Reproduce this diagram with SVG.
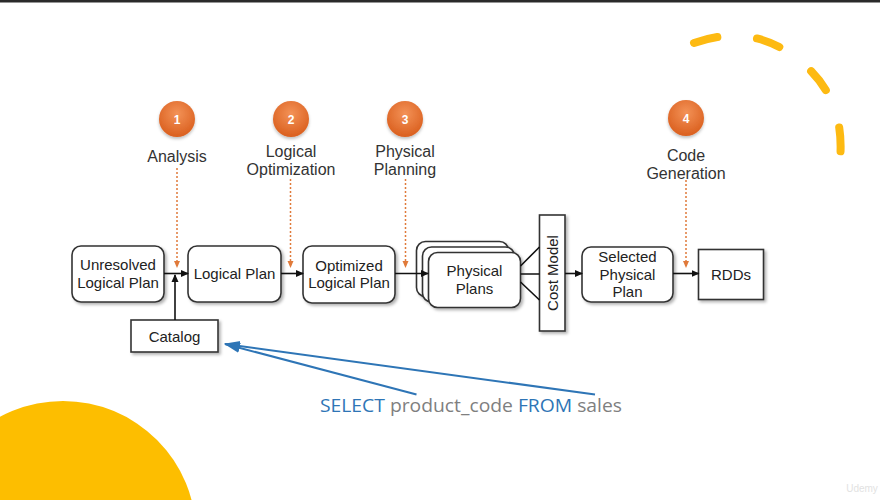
<svg xmlns="http://www.w3.org/2000/svg" width="880" height="500" viewBox="0 0 880 500">
<style>
.box{fill:#fff;stroke:#333;stroke-width:1.6;filter:url(#sh)}
.t{font-family:"Liberation Sans",Arial,sans-serif;font-size:15px;fill:#222;text-anchor:middle}
.lbl{font-family:"Liberation Sans",Arial,sans-serif;font-size:16px;fill:#333;text-anchor:middle}
.num{font-family:"Liberation Sans",Arial,sans-serif;font-size:12px;font-weight:bold;fill:#fff;text-anchor:middle}
.conn{stroke:#111;stroke-width:1.6;fill:none}
.dot{stroke:#E07A3A;stroke-width:1.5;stroke-dasharray:2 2;fill:none}
.blue{stroke:#2E75B6;stroke-width:2;fill:none}
.circ{fill:url(#og);filter:url(#sh2)}
</style>
<defs>
<filter id="sh" x="-10%" y="-10%" width="130%" height="130%">
<feDropShadow dx="2" dy="2" stdDeviation="1.5" flood-color="#000" flood-opacity="0.3"/>
</filter>
<filter id="sh2" x="-30%" y="-30%" width="160%" height="160%">
<feDropShadow dx="0" dy="2" stdDeviation="1.5" flood-color="#000" flood-opacity="0.25"/>
</filter>
<radialGradient id="og" cx="50%" cy="35%" r="65%">
<stop offset="0" stop-color="#F39257"/>
<stop offset="1" stop-color="#DA5F1E"/>
</radialGradient>
<marker id="ab" markerWidth="8" markerHeight="8" refX="7" refY="4" orient="auto" markerUnits="userSpaceOnUse">
<path d="M0,0.5 L8,4 L0,7.5 Z" fill="#111"/>
</marker>
<marker id="ao" markerWidth="8" markerHeight="8" refX="6" refY="4" orient="auto" markerUnits="userSpaceOnUse">
<path d="M0,1 L7,4 L0,7 Z" fill="#E07A3A"/>
</marker>
<marker id="abl" markerWidth="16" markerHeight="12" refX="15" refY="6" orient="auto" markerUnits="userSpaceOnUse">
<path d="M0,1 L16,6 L0,11 Z" fill="#2E75B6"/>
</marker>
</defs>
<rect width="880" height="500" fill="#fff"/>
<rect width="880" height="2.5" fill="#2a2a2a"/>
<!-- decorative shapes -->
<circle cx="63" cy="534" r="133" fill="#FDBE00"/>
<path d="M694,43 Q760,20 810,70 Q845,105 840,160" fill="none" stroke="#FDBA12" stroke-width="8" stroke-linecap="round" stroke-dasharray="24 40"/>
<!-- step markers -->
<g id="step1"><circle class="circ" cx="177" cy="119" r="18"/><text class="num" x="177" y="123.5">1</text>
<text class="lbl" x="177" y="162">Analysis</text></g>
<g id="step2"><circle class="circ" cx="291" cy="119" r="18"/><text class="num" x="291" y="123.5">2</text>
<text class="lbl" x="291" y="156.5">Logical</text><text class="lbl" x="291" y="174.5">Optimization</text></g>
<g id="step3"><circle class="circ" cx="405" cy="119" r="18"/><text class="num" x="405" y="123.5">3</text>
<text class="lbl" x="405" y="156.5">Physical</text><text class="lbl" x="405" y="174.5">Planning</text></g>
<g id="step4"><circle class="circ" cx="686" cy="118" r="18"/><text class="num" x="686" y="122.5">4</text>
<text class="lbl" x="686" y="160.5">Code</text><text class="lbl" x="686" y="178.5">Generation</text></g>
<!-- nodes -->
<g id="unresolved"><rect class="box" x="72" y="246" width="92" height="56" rx="9"/>
<text class="t" x="118" y="270">Unresolved</text><text class="t" x="118" y="287.5">Logical Plan</text></g>
<g id="logical"><rect class="box" x="188" y="246" width="93" height="56" rx="9"/>
<text class="t" x="234.5" y="279">Logical Plan</text></g>
<g id="catalog"><rect class="box" x="131" y="320" width="87" height="32"/>
<text class="t" x="174.5" y="341.5">Catalog</text></g>
<g id="optimized"><rect class="box" x="303" y="246" width="92" height="57" rx="9"/>
<text class="t" x="349" y="270.5">Optimized</text><text class="t" x="349" y="288">Logical Plan</text></g>
<g id="physical">
<rect class="box" x="416.5" y="241.5" width="92" height="55" rx="9"/>
<rect class="box" x="422.5" y="247" width="92" height="55" rx="9"/>
<rect class="box" x="428.5" y="252.5" width="92" height="55" rx="9"/>
<text class="t" x="474.5" y="276">Physical</text><text class="t" x="474.5" y="294">Plans</text></g>
<g id="costmodel"><rect class="box" x="539.5" y="215" width="25.5" height="116"/>
<text class="t" transform="translate(557.5,273) rotate(-90)" x="0" y="0">Cost Model</text></g>
<g id="selected"><rect class="box" x="582" y="247" width="91" height="55" rx="9"/>
<text class="t" x="627.5" y="262">Selected</text><text class="t" x="627.5" y="279.5">Physical</text><text class="t" x="627.5" y="297">Plan</text></g>
<g id="rdds"><rect class="box" x="698.5" y="249.5" width="65" height="50"/>
<text class="t" x="731" y="279.5">RDDs</text></g>
<!-- connectors -->
<g id="connectors">
<path class="conn" d="M164,273.5 H188" marker-end="url(#ab)"/>
<path class="conn" d="M175,320 V275" marker-end="url(#ab)"/>
<path class="conn" d="M281,273.5 H303" marker-end="url(#ab)"/>
<path class="conn" d="M395,273.5 H428" marker-end="url(#ab)"/>
<path class="conn" d="M520.5,266 L539.5,247 M520.5,274 L539.5,274 M520.5,282 L539.5,300"/>
<path class="conn" d="M565,273.5 H582" marker-end="url(#ab)"/>
<path class="conn" d="M673,273.5 H698.5" marker-end="url(#ab)"/>
<path class="dot" d="M177,168 V267" marker-end="url(#ao)"/>
<path class="dot" d="M290.5,179 V267" marker-end="url(#ao)"/>
<path class="dot" d="M405.5,179 V267" marker-end="url(#ao)"/>
<path class="dot" d="M686,180 V267" marker-end="url(#ao)"/>
<path class="blue" d="M416.5,394.5 L225,344" marker-end="url(#abl)"/>
<path class="blue" d="M595,394.5 L225,344" marker-end="url(#abl)"/>
</g>
<text x="320" y="411.5" textLength="302" lengthAdjust="spacingAndGlyphs" font-family="'Open Sans','Noto Sans',sans-serif" font-size="18" fill="#7F7F7F"><tspan fill="#2E75B6">SELECT</tspan> product_code <tspan fill="#2E75B6">FROM</tspan> sales</text>
<text x="862" y="492" text-anchor="middle" font-family="'Liberation Sans',sans-serif" font-size="10" fill="#e2e2e2">Udemy</text>
</svg>
